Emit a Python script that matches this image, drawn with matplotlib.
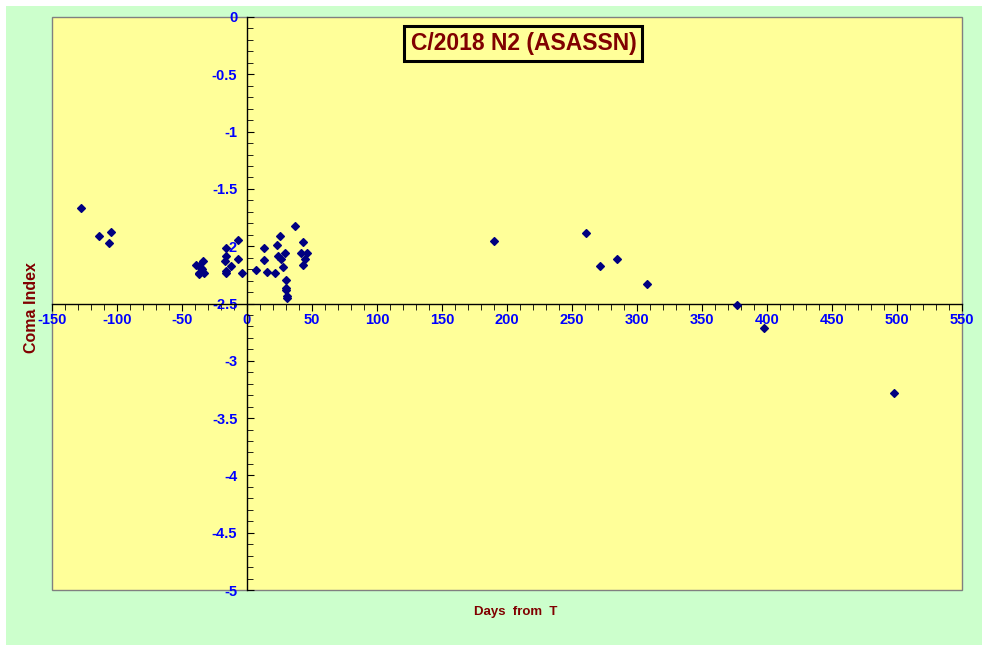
import matplotlib.pyplot as plt
from matplotlib.patches import Rectangle
from matplotlib.ticker import MultipleLocator

# days from perihelion and coma index
days = [-127.7, -114.1, -104.9, -106.4,
        -39.5, -37.2, -34.1, -37.2, -34.8, -33.1, -35.5, -36.7,
        -16.4, -16.4, -17.2, -16.4, -16.2, -12.6, -6.9, -7.2, -3.8,
        6.7, 12.8, 12.8, 15.1, 21.3, 22.8, 25.1, 23.6, 25.9, 27.5, 29.0,
        29.8, 29.8, 29.8, 30.5, 30.5, 36.7, 42.8, 41.3, 45.9, 44.4, 42.8,
        190.0, 260.5, 271.5, 284.6, 307.4, 376.9, 397.7, 497.4]
coma = [-1.664, -1.908, -1.873, -1.969,
        -2.161, -2.173, -2.126, -2.237, -2.202, -2.237, -2.190, -2.240,
        -2.013, -2.088, -2.126, -2.216, -2.231, -2.173, -1.943, -2.109, -2.231,
        -2.205, -2.013, -2.118, -2.222, -2.231, -1.987, -1.911, -2.083, -2.109, -2.179, -2.057,
        -2.292, -2.362, -2.380, -2.432, -2.449, -1.821, -1.961, -2.057, -2.062, -2.109, -2.161,
        -1.955, -1.882, -2.170, -2.109, -2.327, -2.516, -2.714, -3.278]

title = "C/2018 N2 (ASASSN)"
plt.rcParams['font.family'] = ['Liberation Sans', 'DejaVu Sans']

fig = plt.figure(figsize=(9.87, 6.48), dpi=100, facecolor="white")
fig.patches.append(Rectangle((6/987, 3/648), 976/987, 639/648, transform=fig.transFigure,
                             facecolor="#CCFFCC", edgecolor="none", zorder=-10))
ax = fig.add_axes([52/987, 58/648, 910/987, 573/648])
ax.set_facecolor("#FFFF99")
ax.add_patch(Rectangle((0, 0), 1, 1, transform=ax.transAxes, fill=False,
                       edgecolor="#808080", lw=1, clip_on=False, zorder=0.5))

ax.plot(days, coma, linestyle="none", marker="D", ms=3.8, color="#000080",
        mec="#000080", mew=0.9, mfc="#000080", zorder=5, clip_on=False)

ax.set_xlim(-150, 550)
ax.set_ylim(-5, 0)
ax.spines['left'].set_position(('data', 0))
ax.spines['bottom'].set_position(('data', -2.5))
ax.spines['top'].set_visible(False)
ax.spines['right'].set_visible(False)
for s in ('left', 'bottom'):
    ax.spines[s].set_color("black")
    ax.spines[s].set_linewidth(1)

ax.xaxis.set_major_locator(MultipleLocator(50))
ax.xaxis.set_minor_locator(MultipleLocator(10))
ax.yaxis.set_major_locator(MultipleLocator(0.5))
ax.yaxis.set_minor_locator(MultipleLocator(0.1))
ax.tick_params(axis='x', which='both', direction='out', colors="black", labelcolor="#0000FF",
               labelsize=10.5, pad=2)
ax.tick_params(axis='x', which='major', length=5)
ax.tick_params(axis='x', which='minor', length=4)
ax.tick_params(axis='y', which='both', direction='in', colors="black", labelcolor="#0000FF",
               labelsize=10.5, pad=7)
ax.tick_params(axis='y', which='major', length=5)
ax.tick_params(axis='y', which='minor', length=4)
ax.set_xticks(range(-150, 551, 50))
ax.set_xticklabels([str(v) for v in range(-150, 551, 50)])
yt = [0, -0.5, -1, -1.5, -2, -2.5, -3, -3.5, -4, -4.5, -5]
ax.set_yticks(yt)
ax.set_yticklabels(["0" if v == 0 else ("%g" % v) for v in yt])
for lab in ax.get_xticklabels() + ax.get_yticklabels():
    lab.set_fontweight("bold")

ax.text(0.518, 0.954, title, transform=ax.transAxes, ha="center", va="center",
        fontsize=16.5, fontweight="bold", color="#800000", zorder=6,
        bbox=dict(boxstyle="square,pad=0.27", facecolor="#FFFF99", edgecolor="black", lw=2.2))

fig.text(516/987, 1 - 612/648, "Days  from  T", ha="center", va="center",
         fontsize=9.5, fontweight="bold", color="#800000")
fig.text(32/987, 1 - 308/648, "Coma Index", ha="center", va="center", rotation=90,
         fontsize=11.5, fontweight="bold", color="#800000")

fig.savefig("out.png", dpi=100, facecolor=fig.get_facecolor())
